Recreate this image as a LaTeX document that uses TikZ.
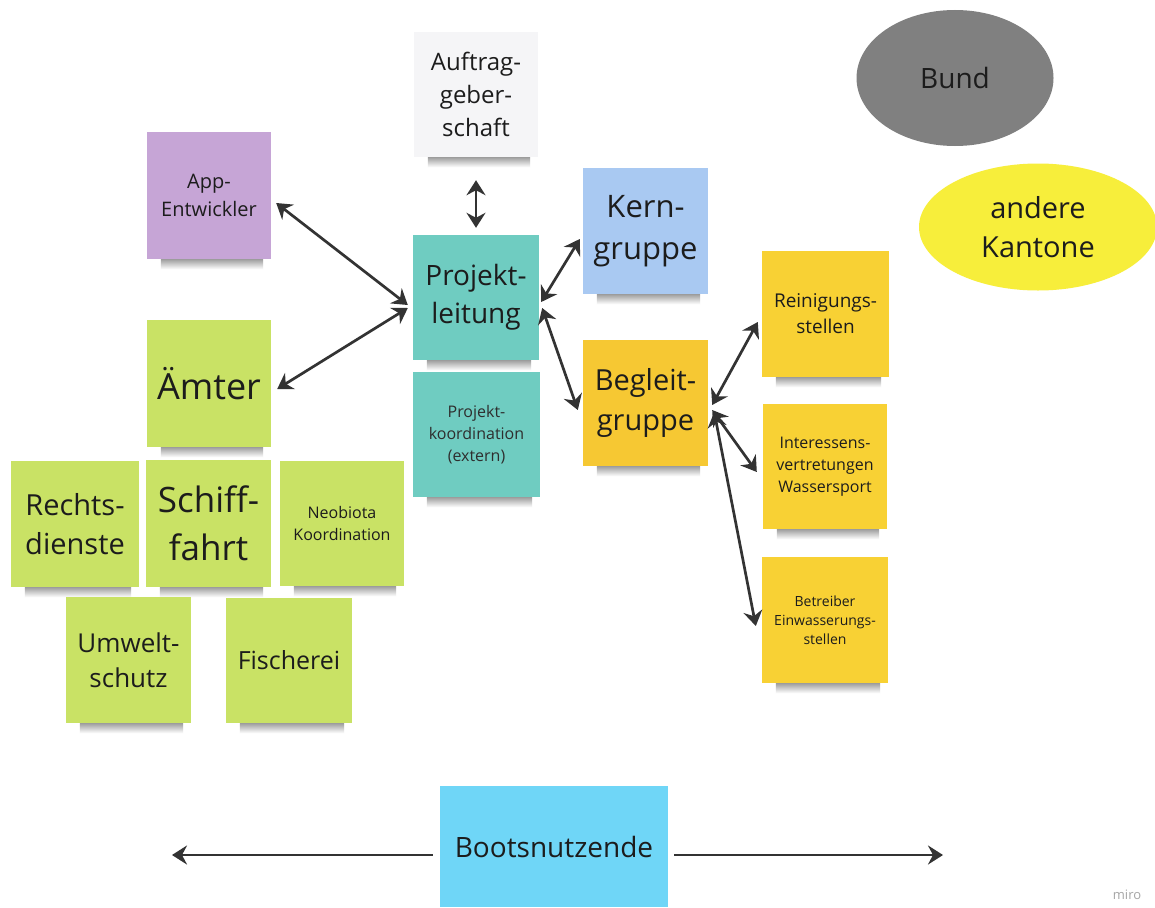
\documentclass[tikz,border=0pt]{standalone}
\usepackage{fontspec}
\setmainfont{Open Sans}
\usetikzlibrary{arrows.meta,backgrounds,shapes.geometric}
\definecolor{cAuftrag}{HTML}{F5F5F7}
\definecolor{cApp}{HTML}{C6A5D6}
\definecolor{cProj}{HTML}{6FCCC1}
\definecolor{cKern}{HTML}{A9C9F2}
\definecolor{cBegleit}{HTML}{F6C833}
\definecolor{cYel}{HTML}{F8D134}
\definecolor{cGreen}{HTML}{C9E265}
\definecolor{cBoots}{HTML}{6FD6F7}
\definecolor{cBund}{HTML}{808080}
\definecolor{cKant}{HTML}{F7EE3B}
\definecolor{cText}{HTML}{1C1C1C}
\definecolor{cArrow}{HTML}{333333}
\newcommand\fs[1]{\fontsize{#1}{1.36\dimexpr#1pt\relax}\selectfont}
\tikzset{
  note/.style={rectangle, inner sep=0pt, align=center, text=cText,
    minimum width=125pt, minimum height=126pt},
  blob/.style={ellipse, inner sep=0pt, align=center, text=cText},
  biarrow/.style={draw=cArrow, line width=2.7pt,
    {Stealth[length=15pt,width=19pt,inset=5pt]}-{Stealth[length=15pt,width=19pt,inset=5pt]}},
  onearrow/.style={draw=cArrow, line width=2.7pt,
    -{Stealth[length=15pt,width=19pt,inset=5pt]}},
  notesh/.style={top color=black!38, bottom color=white, draw=none}
}
\newcommand\notesh[1]{\shade[notesh] ([xshift=14pt,yshift=-10pt]#1.south west) rectangle ([xshift=-8pt]#1.south east);}
\begin{document}
\begin{tikzpicture}[x=1pt,y=-1pt]
\useasboundingbox (0,0) rectangle (1155,907);

% notes
\node[note, fill=cAuftrag, minimum width=124pt, minimum height=125pt, font=\fs{24}] (auftrag) at (476,94.5) {Auftrag-\\geber-\\schaft};
\node[note, fill=cApp, minimum width=124pt, minimum height=127pt, font=\fs{20}] (app) at (209,195.5) {App-\\Entwickler};
\node[note, fill=cProj, minimum width=126pt, minimum height=125pt, font=\fs{28}] (proj) at (476,297.5) {Projekt-\\leitung};
\node[note, fill=cProj, minimum width=127pt, minimum height=125pt, font=\fs{16}, text=black!82] (koord) at (476.5,434.5) {Projekt-\\koordination\\(extern)};
\node[note, fill=cKern, minimum width=125pt, minimum height=126pt, font=\fs{31}] (kern) at (645.5,231) {Kern-\\gruppe};
\node[note, fill=cBegleit, minimum width=125pt, minimum height=126pt, font=\fs{29}] (begleit) at (645.5,403) {Begleit-\\gruppe};
\node[note, fill=cYel, minimum width=127pt, minimum height=126pt, font=\fs{19}] (rein) at (825.5,314) {Reinigungs-\\stellen};
\node[note, fill=cYel, minimum width=124pt, minimum height=125pt, font=\fs{16}] (inter) at (825,466.5) {Interessens-\\vertretungen\\Wassersport};
\node[note, fill=cYel, minimum width=126pt, minimum height=126pt, font=\fs{14}] (betr) at (825,620) {Betreiber\\Einwasserungs-\\stellen};
\node[note, fill=cGreen, minimum width=124pt, minimum height=127pt, font=\fs{36}] (aemter) at (209,383.5) {Ämter};
\node[note, fill=cGreen, minimum width=128pt, minimum height=126pt, font=\fs{29}] (rechts) at (75,524) {Rechts-\\dienste};
\node[note, fill=cGreen, minimum width=125pt, minimum height=127pt, font=\fs{35}] (schiff) at (208.5,523.5) {Schiff-\\fahrt};
\node[note, fill=cGreen, minimum width=124pt, minimum height=125pt, font=\fs{16}] (neo) at (342,523.5) {Neobiota\\Koordination};
\node[note, fill=cGreen, minimum width=125pt, minimum height=126pt, font=\fs{26}] (umwelt) at (128.5,660) {Umwelt-\\schutz};
\node[note, fill=cGreen, minimum width=126pt, minimum height=125pt, font=\fs{25}] (fisch) at (289,660.5) {Fischerei};
\node[note, fill=cBoots, minimum width=228pt, minimum height=121pt, font=\fs{28}] (boots) at (554,846.5) {Bootsnutzende};

% ellipses
\node[blob, fill=cBund, minimum width=197pt, minimum height=136pt, font=\fs{28}] (bund) at (955,78) {Bund};
\node[blob, fill=cKant, minimum width=238pt, minimum height=127pt, font=\fs{29}] (kant) at (1038,227) {andere\\Kantone};

% background and shadows
\begin{scope}[on background layer]
\fill[white] (0,0) rectangle (1155,907);
\foreach \n in {auftrag,app,proj,koord,kern,begleit,rein,inter,betr,aemter,rechts,schiff,neo,umwelt,fisch}{\notesh{\n}}
\end{scope}

% connectors
\draw[biarrow] ([yshift=-23pt]auftrag.south) -- ([yshift=7pt]proj.north);
\draw[biarrow] ([xshift=5pt,yshift=-7.5pt]app.east) -- ([xshift=-5pt,yshift=-7.5pt]proj.west);
\draw[biarrow] ([xshift=6pt,yshift=-5.5pt]aemter.east) -- ([xshift=-5pt,yshift=-10.5pt]proj.west);
\draw[biarrow] ([xshift=2pt,yshift=-4.5pt]proj.east) -- ([xshift=-3pt,yshift=-8pt]kern.west);
\draw[biarrow] ([xshift=3pt,yshift=-10.5pt]proj.east) -- ([xshift=-5pt,yshift=-7pt]begleit.west);
\draw[biarrow] ([xshift=4pt,yshift=-2pt]begleit.east) -- ([xshift=-4pt,yshift=-8pt]rein.west);
\draw[biarrow] ([xshift=4pt,yshift=-7pt]begleit.east) -- ([xshift=-6pt,yshift=-5.5pt]inter.west);
\draw[biarrow] ([xshift=6pt,yshift=-9pt]begleit.east) -- ([xshift=-6pt,yshift=-6pt]betr.west);

\coordinate (lend) at (172,855);
\coordinate (rend) at (943,855);
\draw[onearrow] ([xshift=-7pt,yshift=-8.5pt]boots.west) -- (lend);
\draw[onearrow] ([xshift=6pt,yshift=-8.5pt]boots.east) -- (rend);

\node[text=black!35, font=\fs{13}] (miro) at (1127,895) {miro};
\end{tikzpicture}
\end{document}
